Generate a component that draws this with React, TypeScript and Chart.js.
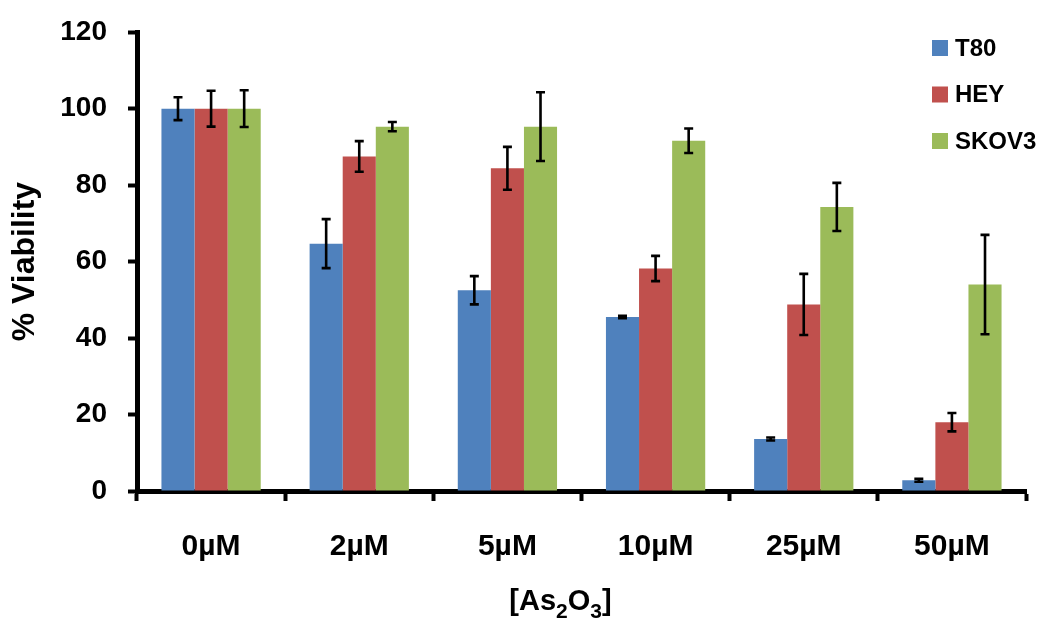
import React, { useEffect, useRef } from "react";
import { Chart, registerables } from "chart.js";

Chart.register(...registerables);

const categories = ["0µM", "2µM", "5µM", "10µM", "25µM", "50µM"];
const seriesNames = ["T80", "HEY", "SKOV3"];
const t80 = [100, 64.7, 52.5, 45.5, 13.6, 2.8];
const t80Err = [3, 6.4, 3.7, 0.3, 0.4, 0.4];
const hey = [100, 87.5, 84.4, 58.2, 48.8, 18];
const heyErr = [4.7, 4, 5.6, 3.3, 8, 2.4];
const skov3 = [100, 95.3, 95.3, 91.6, 74.3, 54];
const skov3Err = [4.8, 1.2, 9, 3.2, 6.3, 13];
const yTicks = [0, 20, 40, 60, 80, 100, 120];
const colors = ["#4F81BD", "#C0504D", "#9BBB59"];

const FONT = "'Liberation Sans', Arial, sans-serif";

const errorBarPlugin = {
  id: "errorBars",
  afterDatasetsDraw(chart: any) {
    const ctx = chart.ctx;
    const yScale = chart.scales.y;
    ctx.save();
    ctx.strokeStyle = "#000";
    ctx.lineWidth = 2.6;
    chart.data.datasets.forEach((ds: any, di: number) => {
      const meta = chart.getDatasetMeta(di);
      meta.data.forEach((bar: any, i: number) => {
        const v = ds.data[i];
        const e = ds.errors[i];
        const yTop = yScale.getPixelForValue(v + e);
        const yBot = yScale.getPixelForValue(v - e);
        const x = bar.x;
        const cap = 4.5;
        ctx.beginPath();
        ctx.moveTo(x, yTop);
        ctx.lineTo(x, yBot);
        ctx.moveTo(x - cap, yTop);
        ctx.lineTo(x + cap, yTop);
        ctx.moveTo(x - cap, yBot);
        ctx.lineTo(x + cap, yBot);
        ctx.stroke();
      });
    });
    ctx.restore();
  },
};

const legendPlugin = {
  id: "customLegend",
  afterDraw(chart: any) {
    const ctx = chart.ctx;
    ctx.save();
    chart.data.datasets.forEach((ds: any, i: number) => {
      const cy = 48 + i * 46.5;
      ctx.fillStyle = ds.backgroundColor;
      ctx.fillRect(932, cy - 8, 16, 16);
      ctx.fillStyle = "#000";
      ctx.font = `bold 24px ${FONT}`;
      ctx.textBaseline = "middle";
      ctx.textAlign = "left";
      ctx.fillText(ds.label, 955, cy + 1);
    });
    ctx.restore();
  },
};

const xTitlePlugin = {
  id: "xTitle",
  afterDraw(chart: any) {
    const ctx = chart.ctx;
    ctx.save();
    const parts: [string, boolean][] = [
      ["[As", false],
      ["2", true],
      ["O", false],
      ["3", true],
      ["]", false],
    ];
    const big = `bold 29px ${FONT}`;
    const small = `bold 21px ${FONT}`;
    let total = 0;
    parts.forEach(([t, s]) => {
      ctx.font = s ? small : big;
      total += ctx.measureText(t).width;
    });
    let x = 560.5 - total / 2;
    const baseline = 610;
    ctx.fillStyle = "#000";
    ctx.textBaseline = "alphabetic";
    ctx.textAlign = "left";
    parts.forEach(([t, s]) => {
      ctx.font = s ? small : big;
      ctx.fillText(t, x, s ? baseline + 8 : baseline);
      x += ctx.measureText(t).width;
    });
    ctx.restore();
  },
};

export default function App() {
  const ref = useRef<HTMLCanvasElement>(null);
  useEffect(() => {
    if (!ref.current) return;
    const chart = new Chart(ref.current, {
      type: "bar",
      data: {
        labels: categories,
        datasets: [
          { label: seriesNames[0], data: t80, errors: t80Err, backgroundColor: colors[0] } as any,
          { label: seriesNames[1], data: hey, errors: heyErr, backgroundColor: colors[1] } as any,
          { label: seriesNames[2], data: skov3, errors: skov3Err, backgroundColor: colors[2] } as any,
        ],
      },
      options: {
        responsive: false,
        animation: false,
        devicePixelRatio: 1,
        layout: { padding: { top: 32, right: 24, left: 0, bottom: 0 } },
        datasets: { bar: { categoryPercentage: 0.67, barPercentage: 1 } },
        plugins: { legend: { display: false }, tooltip: { enabled: false } },
        scales: {
          x: {
            offset: true,
            grid: {
              offset: true,
              drawOnChartArea: false,
              drawTicks: true,
              tickLength: 10,
              tickWidth: 4,
              color: "#000",
            },
            border: { display: true, color: "#000", width: 5 },
            ticks: {
              color: "#000",
              font: { family: FONT, size: 30, weight: "bold" },
              padding: 28,
            },
            afterFit(scale: any) {
              scale.height = 144;
            },
          },
          y: {
            min: 0,
            max: 120,
            afterBuildTicks(scale: any) {
              scale.ticks = yTicks.map((v) => ({ value: v }));
            },
            grid: {
              drawOnChartArea: false,
              drawTicks: true,
              tickLength: 9,
              tickWidth: 4,
              color: "#000",
            },
            border: { display: true, color: "#000", width: 5 },
            ticks: {
              color: "#000",
              font: { family: FONT, size: 28, weight: "bold", lineHeight: 0.8 },
              padding: 21,
            },
            title: {
              display: true,
              text: "% Viability",
              color: "#000",
              font: { family: FONT, size: 32, weight: "bold" },
              padding: { top: 6, bottom: 0 },
            },
            afterFit(scale: any) {
              scale.width = 137;
            },
          },
        },
      } as any,
      plugins: [errorBarPlugin, legendPlugin, xTitlePlugin],
    });
    return () => chart.destroy();
  }, []);
  return (
    <div style={{ position: "absolute", left: 0, top: 0, width: 1050, height: 635, background: "#fff" }}>
      <canvas ref={ref} width={1050} height={635} />
    </div>
  );
}
